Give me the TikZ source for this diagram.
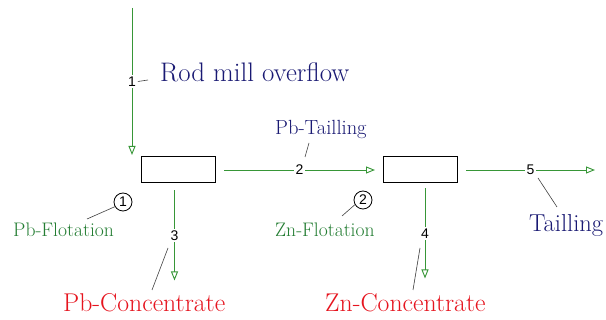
\documentclass[tikz,border=0pt]{standalone}
\usepackage{fontspec}
\newfontfamily\numfont{Liberation Sans}
\usetikzlibrary{arrows.meta}
\definecolor{flowgreen}{RGB}{55,150,55}
\definecolor{labgreen}{RGB}{35,125,50}
\definecolor{navyblue}{RGB}{25,25,115}
\definecolor{conred}{RGB}{230,20,30}
\begin{document}
\begin{tikzpicture}[x=1pt,y=-1pt,
  flow/.style={draw=flowgreen, line width=0.9pt, -{Triangle[open,length=9pt,width=7pt]}},
  cell/.style={draw=black, line width=1pt, minimum width=74pt, minimum height=26pt, inner sep=0pt},
  num/.style={fill=white, inner sep=1.5pt, font=\numfont\fontsize{14}{14}\selectfont},
  leader/.style={draw=black!75, line width=0.6pt},
  txt/.style={anchor=base west, inner sep=0pt},
  unit/.style={circle, draw=black, line width=0.8pt, inner sep=0pt, minimum size=18pt, font=\numfont\fontsize{14}{14}\selectfont}]
\useasboundingbox[fill=white] (0,0) rectangle (606,320);
% flotation cells
\node[cell] (b1) at (178.5,170) {};
\node[cell] (b2) at (420.5,170) {};
% streams
\coordinate (feed) at (132,8);
\coordinate (feedend) at (132,155);
\draw[flow] (feed) -- node[num] (n1) {1} (feedend);
\draw[flow] ([xshift=8pt]b1.east) -- node[num] (n2) {2} ([xshift=-8pt]b2.west);
\draw[flow] ([xshift=-4pt,yshift=-7pt]b1.south) -- node[num] (n3) {3} ++(0,90);
\draw[flow] ([xshift=4.5pt,yshift=-5pt]b2.south) -- node[num] (n4) {4} ++(0,90);
\draw[flow] ([xshift=8pt]b2.east) -- node[num] (n5) {5} ++(129,0);
% texts
\node[txt, text=navyblue, font=\rmfamily\fontsize{26.8}{26.8}\selectfont] (rod) at (160,82) {Rod mill overflow};
\node[txt, text=navyblue, font=\rmfamily\fontsize{20.5}{20.5}\selectfont] (pbt) at (275,135) {Pb-Tailling};
\node[txt, text=navyblue, font=\rmfamily\fontsize{24.5}{24.5}\selectfont] (tail) at (529,232) {Tailling};
\node[txt, text=labgreen, font=\rmfamily\fontsize{19.6}{19.6}\selectfont] (pbf) at (13,237) {Pb-Flotation};
\node[txt, text=labgreen, font=\rmfamily\fontsize{19.6}{19.6}\selectfont] (znf) at (275,237) {Zn-Flotation};
\node[txt, text=conred, font=\rmfamily\fontsize{25.7}{25.7}\selectfont] (pbc) at (63,312) {Pb-Concentrate};
\node[txt, text=conred, font=\rmfamily\fontsize{25.7}{25.7}\selectfont] (znc) at (325,312) {Zn-Concentrate};
% unit numbers
\node[unit] (c1) at (123,202) {1};
\node[unit] (c2) at (363,200) {2};
% leaders
\coordinate (l1) at (148,80);
\coordinate (l2a) at (305,157);
\coordinate (l2b) at (309,143);
\coordinate (l3a) at (168,248);
\coordinate (l3b) at (152,290);
\coordinate (l4a) at (420,248);
\coordinate (l4b) at (413,290);
\coordinate (l5a) at (538,178);
\coordinate (l5b) at (557,207);
\coordinate (lc1) at (87,219);
\coordinate (lc2) at (342,216);
\draw[leader] (n1.east) -- (l1);
\draw[leader] (l2a) -- (l2b);
\draw[leader] (l3a) -- (l3b);
\draw[leader] (l4a) -- (l4b);
\draw[leader] (l5a) -- (l5b);
\draw[leader] (c1.210) -- (lc1);
\draw[leader] (c2.210) -- (lc2);
\end{tikzpicture}
\end{document}
